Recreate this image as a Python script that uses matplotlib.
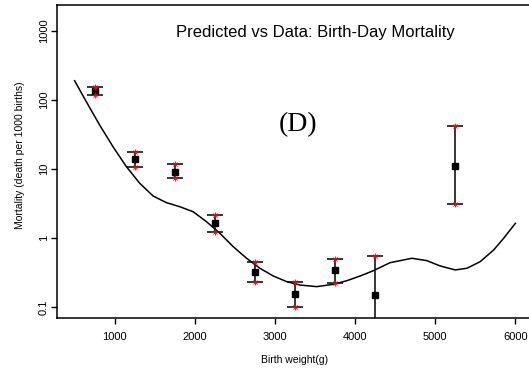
import numpy as np
import matplotlib
matplotlib.use('Agg')
import matplotlib.pyplot as plt

# данные: масса при рождении (г) и смертность (на 1000 рождений)
weight = [750, 1250, 1750, 2250, 2750, 3250, 3750, 4250, 5250]
mortality = [136, 13.8, 9.1, 1.63, 0.318, 0.153, 0.34, 0.148, 11.2]
upper = [155, 17.8, 11.7, 2.15, 0.454, 0.228, 0.50, 0.543, 42.4]
lower = [120, 10.8, 7.3, 1.23, 0.228, 0.101, 0.22, 0.001, 3.11]

# кривая модели
curve_x = [500, 646, 812, 979, 1146, 1312, 1479, 1646, 1812, 1979, 2146,
           2312, 2479, 2646, 2812, 2979, 3146, 3312, 3521, 3729, 3896, 4062,
           4229, 4438, 4709, 4896, 5062, 5250, 5396, 5562, 5729, 5854, 6000]
curve_y = [190, 94.4, 43.4, 21.0, 10.8, 6.21, 4.06, 3.25, 2.84, 2.40, 1.72,
           1.17, 0.748, 0.508, 0.364, 0.281, 0.233, 0.208, 0.197, 0.213, 0.240,
           0.281, 0.336, 0.439, 0.508, 0.469, 0.393, 0.344, 0.364, 0.454, 0.670,
           0.991, 1.63]

yticks = [0.1, 1, 10, 100, 1000]
ytick_labels = ['0.1', '1', '10', '100', '1000']
xticks = [1000, 2000, 3000, 4000, 5000, 6000]

plt.rcParams['font.family'] = ['Liberation Sans', 'DejaVu Sans']

W, H = 529, 370
fig = plt.figure(figsize=(W / 100, H / 100), dpi=100)
# правая граница осей выходит за край картинки, как в оригинале
ax = fig.add_axes([57 / W, (H - 318) / H, (533 - 57) / W, (318 - 5) / H])
ax.set_yscale('log')
ax.set_xlim(280, 6220)
ax.set_ylim(10 ** -1.16, 10 ** 3.377)

ax.plot(curve_x, curve_y, color='black', lw=1.1, zorder=2,
        solid_joinstyle='round')

mid = np.array(mortality)
yerr = [mid - np.array(lower), np.array(upper) - mid]
ax.errorbar(weight, mortality, yerr=yerr, fmt='s', color='black', ms=5,
            elinewidth=1.1, capsize=6, capthick=1.1, zorder=3)
for ys in (upper, lower):
    ax.plot(weight, ys, '+', color='red', ms=4.5, mew=0.6, zorder=4)
    ax.plot(weight, ys, 'x', color='red', ms=3.5, mew=0.6, zorder=4)

ax.set_xticks(xticks)
ax.set_xticklabels([str(t) for t in xticks], fontsize=8)
ax.set_yticks(yticks)
ax.set_yticklabels(ytick_labels, fontsize=8, rotation=90, va='center')
ax.minorticks_off()
ax.tick_params(axis='x', direction='out', length=4, width=1, pad=6)
ax.tick_params(axis='y', direction='out', length=4, width=1, pad=2)
for s in ax.spines.values():
    s.set_linewidth(1.1)

fig.text(295 / W, 1 - 360 / H, 'Birth weight(g)', fontsize=7.5,
         ha='center', va='center')
fig.text(20 / W, 1 - 155 / H, 'Mortality (death per 1000 births)', fontsize=7.5,
         ha='center', va='center', rotation=90)
fig.text(315 / W, 1 - 33 / H, 'Predicted vs Data: Birth-Day Mortality',
         fontsize=12, ha='center', va='center')
fig.text(298 / W, 1 - 125 / H, '(D)', fontsize=20, ha='center', va='center',
         family='Liberation Serif')

fig.savefig('out.png', dpi=100)
